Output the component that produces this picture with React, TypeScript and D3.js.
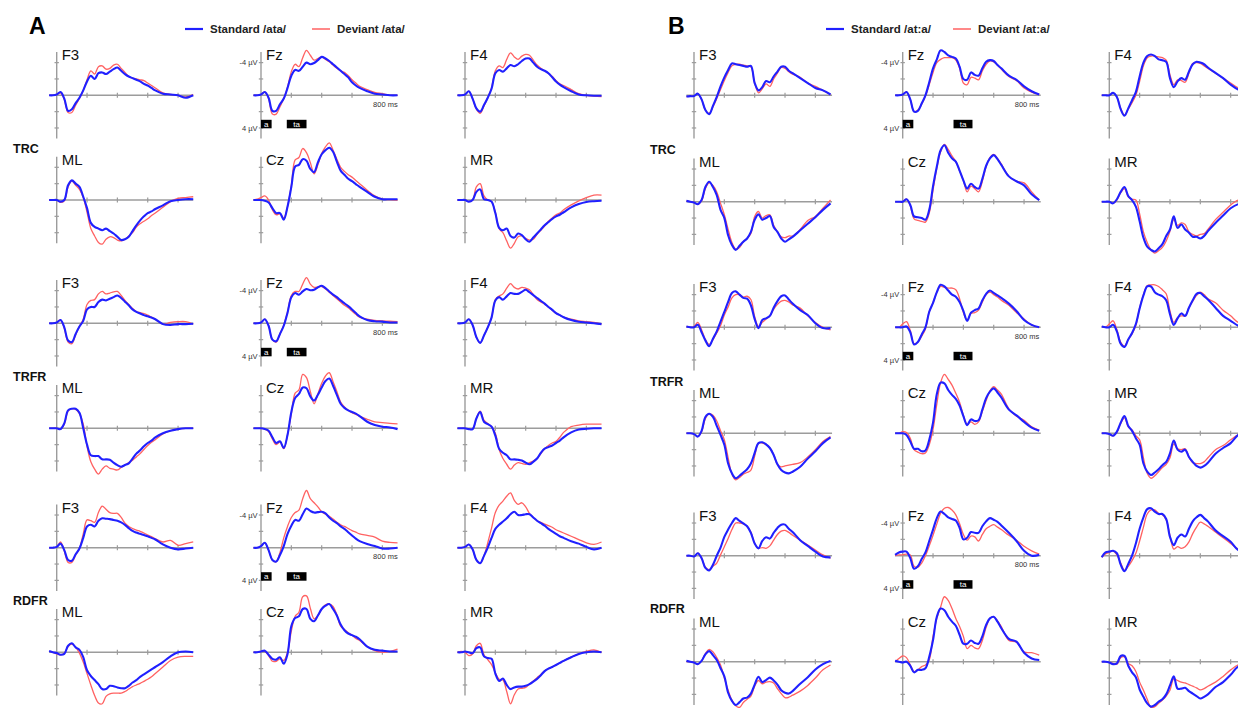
import React from 'react';
import * as d3 from 'd3';

// ---------------- DATA ----------------
const TIMES = [-50,-25,0,25,50,75,100,125,150,175,200,225,250,275,300,325,350,375,400,425,450,475,500,525,550,575,600,625,650,700,750,800,850,900];
const VOLT_TICKS = [-4,-2,2,4];
const TIME_TICKS = [200,400,600,800];
const CONDITIONS = ['TRC','TRFR','RDFR'];
const TOP_ELECTRODES = ['F3','Fz','F4'];
const BOTTOM_ELECTRODES = ['ML','Cz','MR'];
const SEG_A = [{label:'a',start:0,end:70},{label:'ta',start:170,end:300}];
const SEG_B = [{label:'a',start:0,end:70},{label:'ta',start:335,end:460}];

// Panel A /ata/
const A_TRC_F3_STD = [0,0,-0.1,-0.4,0.4,1.9,1.7,0.95,0.3,-0.6,-1.7,-2.4,-2.0,-2.7,-2.8,-2.6,-2.9,-3.2,-3.4,-3.0,-2.6,-2.3,-2.1,-1.9,-1.7,-1.4,-1.2,-0.9,-0.6,-0.2,-0.1,0,0.3,0];
const A_TRC_F3_DEV = [0,0,-0.1,-0.3,0.5,2.1,2.1,1.2,0.4,-0.6,-1.9,-3.0,-2.6,-3.5,-3.6,-3.2,-3.3,-3.7,-3.8,-3.3,-2.8,-2.3,-2.1,-2.0,-1.9,-1.8,-1.5,-1.2,-0.9,-0.3,-0.1,0,0.2,-0.1];
const A_TRC_FZ_STD = [0,0,-0.1,-0.4,0.3,1.9,1.9,1.1,0.4,-0.9,-2.4,-3.1,-3.0,-3.5,-4.0,-3.8,-3.95,-4.3,-4.7,-4.5,-4.2,-3.8,-3.4,-3.0,-2.6,-2.2,-1.6,-1.2,-0.9,-0.5,-0.2,-0.1,0,0];
const A_TRC_FZ_DEV = [0,0,-0.1,-0.4,0.4,2.3,2.3,1.4,0.4,-1.0,-2.9,-3.8,-3.5,-4.6,-5.5,-4.9,-4.3,-4.5,-4.7,-4.4,-4.1,-3.7,-3.3,-3.0,-2.8,-2.4,-1.9,-1.5,-1.1,-0.7,-0.35,-0.2,0,0];
const A_TRC_F4_STD = [0,0,-0.1,-0.5,0.4,1.6,2.0,1.2,0.3,-0.8,-2.7,-3.1,-2.9,-3.3,-3.7,-3.55,-3.8,-4.2,-4.5,-4.5,-4.0,-3.5,-3.2,-3.0,-2.7,-2.2,-1.7,-1.3,-1.0,-0.5,-0.1,0,0.05,0.05];
const A_TRC_F4_DEV = [0,0,-0.1,-0.5,0.4,1.7,2.2,1.3,0.3,-0.9,-3.0,-3.6,-3.4,-4.4,-5.2,-4.7,-4.4,-4.8,-5.0,-4.9,-4.3,-3.7,-3.3,-3.0,-2.7,-2.3,-1.8,-1.4,-1.2,-0.7,-0.2,0,0.1,0.15];
const A_TRC_ML_STD = [0,0,0,0.2,0,-1.8,-2.4,-2.0,-1.6,-0.4,1.0,2.8,3.3,3.5,3.7,3.5,3.8,4.1,4.5,4.9,4.8,4.5,3.8,3.1,2.5,2.0,1.6,1.4,1.1,0.65,0.15,0,-0.1,-0.1];
const A_TRC_ML_DEV = [0,0,0,0.3,0.1,-1.6,-2.3,-1.8,-1.3,-0.3,1.5,3.5,4.4,5.2,5.4,4.8,4.5,4.6,4.9,5.0,4.8,4.4,4.0,3.3,2.9,2.6,2.3,1.9,1.6,0.9,0.2,-0.2,-0.3,-0.4];
const A_TRC_CZ_STD = [0,0,0,0.1,0.3,1.0,1.6,1.6,2.4,0.8,-1.6,-4.1,-4.3,-5.0,-4.8,-3.8,-3.4,-4.6,-5.6,-6.1,-6.4,-5.9,-4.7,-3.6,-3.1,-2.6,-2.3,-1.95,-1.6,-1.0,-0.4,-0.1,-0.1,-0.1];
const A_TRC_CZ_DEV = [0,-0.1,-0.3,-0.5,0,1.2,1.8,1.7,2.2,0.8,-1.8,-4.9,-5.2,-6.3,-5.8,-4.6,-3.2,-4.3,-5.7,-6.5,-7.0,-6.1,-5.0,-4.0,-3.5,-3.1,-2.8,-2.4,-2.0,-1.2,-0.5,-0.1,-0.05,0];
const A_TRC_MR_STD = [0,0,0,0.2,0,-1.0,-1.3,-0.1,0,0.2,1.6,3.4,3.7,3.5,4.4,4.6,4.1,4.3,4.8,5.1,4.6,4.1,3.6,3.1,2.7,2.3,2.0,1.8,1.5,0.9,0.5,0.25,0.15,0.1];
const A_TRC_MR_DEV = [0,0,0,0.2,0,-1.6,-2.0,-0.5,0,0.2,1.5,3.5,4.0,5.0,5.9,5.3,4.5,4.4,4.7,4.9,4.8,4.2,3.7,3.2,2.6,2.2,1.8,1.6,1.2,0.6,0.1,-0.3,-0.6,-0.6];

const A_TRFR_F3_STD = [0,0,-0.1,-0.4,0.5,2.1,2.3,1.3,0.4,-0.3,-1.7,-2.0,-2.0,-2.6,-2.9,-2.8,-3.0,-3.2,-3.4,-3.1,-2.65,-2.2,-1.7,-1.4,-1.2,-1.0,-0.85,-0.7,-0.5,0.1,0.2,0.1,0.1,0.05];
const A_TRFR_F3_DEV = [0,0,-0.1,-0.4,0.6,2.3,2.5,1.4,0.4,-0.5,-2.3,-2.8,-2.9,-3.6,-3.9,-3.6,-3.7,-3.85,-3.9,-3.4,-2.8,-2.3,-1.8,-1.45,-1.3,-1.2,-1.0,-0.75,-0.5,0.1,-0.1,-0.2,-0.2,0.1];
const A_TRFR_FZ_STD = [0,0,-0.1,-0.5,0.3,2.0,2.2,1.3,0.3,-1.3,-3.2,-3.7,-3.5,-3.9,-4.2,-4.05,-4.1,-4.4,-4.6,-4.3,-3.9,-3.5,-3.2,-2.8,-2.45,-2.1,-1.7,-1.25,-0.85,-0.4,-0.25,-0.2,-0.1,-0.1];
const A_TRFR_FZ_DEV = [0,0,-0.1,-0.5,0.3,2.0,2.3,1.3,0.2,-1.4,-3.4,-3.9,-3.9,-4.8,-5.6,-4.8,-4.4,-4.45,-4.5,-4.2,-3.8,-3.4,-3.0,-2.6,-2.2,-1.9,-1.5,-1.1,-0.75,-0.5,-0.35,-0.3,-0.25,-0.2];
const A_TRFR_F4_STD = [0,0,-0.1,-0.5,0.2,1.7,2.4,1.5,0.5,-0.7,-2.8,-3.2,-2.9,-3.3,-3.7,-3.6,-3.6,-3.85,-4.1,-3.8,-3.45,-3.1,-2.75,-2.4,-2.0,-1.65,-1.25,-1.0,-0.75,-0.4,-0.2,-0.1,0,0.1];
const A_TRFR_F4_DEV = [0,0,-0.1,-0.5,0.2,1.7,2.4,1.5,0.5,-0.7,-2.9,-3.35,-3.6,-4.3,-4.85,-4.4,-4.2,-4.4,-4.3,-4.1,-3.5,-2.9,-2.6,-2.35,-2.0,-1.6,-1.25,-1.0,-0.75,-0.5,-0.3,-0.2,-0.1,0.1];
const A_TRFR_ML_STD = [0,0,0,0.1,-0.6,-2.2,-2.4,-2.4,-1.9,0,2.0,3.3,3.4,3.4,3.8,3.8,3.85,4.2,4.5,4.7,4.5,4.3,3.7,3.1,2.7,2.2,1.8,1.5,1.1,0.6,0.3,0.1,0,0];
const A_TRFR_ML_DEV = [0,0,0,0.1,-0.5,-2.1,-2.4,-2.3,-1.8,-0.5,2.2,4.1,5.0,5.6,5.0,4.6,4.9,5.0,5.1,4.8,4.5,4.2,3.9,3.5,3.1,2.6,2.1,1.7,1.4,0.7,0.3,0.1,0,0];
const A_TRFR_CZ_STD = [0,0,0,0.1,0.3,1.1,1.8,1.6,2.4,0.8,-2.0,-3.7,-4.2,-5.0,-4.9,-3.9,-3.4,-4.1,-5.0,-5.8,-6.1,-5.2,-4.1,-3.0,-2.5,-2.2,-2.0,-1.8,-1.5,-0.8,-0.4,-0.2,-0.1,0.1];
const A_TRFR_CZ_DEV = [0,0,0,0.1,0.4,1.3,2.0,1.7,2.5,0.8,-1.8,-4.3,-4.7,-6.6,-6.2,-4.5,-3.0,-4.2,-5.5,-6.4,-6.8,-5.7,-4.5,-3.2,-2.6,-2.2,-1.9,-1.7,-1.45,-1.1,-0.8,-0.7,-0.6,-0.55];
const A_TRFR_MR_STD = [0,0,0,0.1,0.1,-1.2,-2.0,-0.8,-0.5,-0.2,0.9,2.5,3.0,3.3,3.8,3.8,3.85,3.95,4.2,4.4,4.1,3.7,3.0,2.5,2.3,2.1,1.8,1.5,1.1,0.5,0.15,0.05,0,0];
const A_TRFR_MR_DEV = [0,0,0,0.1,0.1,-1.2,-2.1,-1.0,-0.6,-0.2,0.6,2.6,3.7,4.4,5.0,4.5,4.2,4.3,4.4,4.2,4.0,3.7,3.1,2.5,2.1,1.8,1.6,1.1,0.5,-0.2,-0.4,-0.5,-0.5,-0.5];

const A_RDFR_F3_STD = [0,0,-0.1,-0.5,0.3,1.5,1.6,0.8,0.1,-1.2,-2.6,-2.8,-2.6,-3.3,-3.6,-3.55,-3.5,-3.4,-3.3,-3.1,-2.8,-2.4,-2.05,-1.85,-1.7,-1.55,-1.4,-1.2,-1.0,-0.4,0,0.2,0.1,0];
const A_RDFR_F3_DEV = [0,0,-0.1,-0.7,0.4,1.8,1.8,0.9,0.1,-1.7,-3.4,-3.3,-3.1,-4.3,-5.1,-4.7,-4.3,-4.2,-4.2,-3.7,-3.0,-2.6,-2.35,-2.15,-2.0,-1.8,-1.55,-1.35,-1.1,-0.7,-0.9,-0.3,-0.5,-0.7];
const A_RDFR_FZ_STD = [0,0,-0.2,-0.6,0.3,1.5,1.7,0.9,-0.2,-1.7,-2.7,-3.4,-3.3,-4.1,-4.8,-4.5,-4.3,-4.35,-4.4,-4.2,-3.7,-3.3,-3.0,-2.6,-2.3,-1.9,-1.5,-1.1,-0.8,-0.45,-0.2,0.1,0.1,0];
const A_RDFR_FZ_DEV = [0,0,-0.2,-0.6,0.3,1.5,1.7,0.6,-1.2,-2.6,-3.7,-4.3,-4.6,-6.0,-7.0,-6.0,-5.5,-5.0,-4.4,-4.1,-3.85,-3.5,-3.1,-2.8,-2.6,-2.35,-2.1,-1.9,-1.7,-1.5,-1.3,-0.8,-0.65,-0.6];
const A_RDFR_F4_STD = [0,0,-0.1,-0.4,0.2,1.5,1.9,1.0,0,-1.2,-2.3,-2.8,-3.2,-3.6,-4.1,-4.4,-4.0,-4.0,-4.1,-4.1,-3.7,-3.3,-3.0,-2.7,-2.3,-2.0,-1.7,-1.4,-1.2,-0.8,-0.5,-0.1,0.2,0];
const A_RDFR_F4_DEV = [0,0,-0.1,-0.4,0.2,1.5,1.9,1.0,-0.6,-2.4,-4.3,-5.2,-5.7,-6.3,-6.7,-5.8,-5.3,-5.5,-5.0,-4.2,-3.7,-3.3,-3.1,-2.9,-2.7,-2.5,-2.2,-2.0,-1.8,-1.4,-1.0,-0.6,-0.4,-0.7];
const A_RDFR_ML_STD = [-0.15,0,0.1,0.3,0.2,-0.8,-1.1,-0.6,-0.3,0.6,2.2,2.9,3.4,3.9,4.5,4.5,4.1,4.15,4.3,4.4,4.4,4.1,3.7,3.4,3.0,2.7,2.4,2.1,1.8,1.2,0.5,0,-0.1,0];
const A_RDFR_ML_DEV = [-0.1,0,0.2,0.3,0.1,-0.7,-1.0,-0.6,0.1,1.2,2.6,4.0,5.3,6.2,6.3,5.4,5.1,5.0,5.0,5.0,4.8,4.5,4.2,4.0,3.8,3.55,3.3,3.0,2.6,1.8,1.0,0.6,0.5,0.5];
const A_RDFR_CZ_STD = [0,0,-0.1,-0.2,0.3,0.8,0.9,0.6,1.4,0.2,-3.2,-4.2,-4.4,-5.3,-5.3,-4.1,-3.8,-4.5,-5.3,-5.7,-5.9,-5.3,-4.5,-3.4,-2.7,-2.3,-2.1,-1.9,-1.6,-0.7,-0.3,-0.2,-0.1,-0.1];
const A_RDFR_CZ_DEV = [0,0,-0.1,-0.1,0.4,1.1,1.1,0.8,1.0,0,-2.6,-4.4,-4.9,-6.8,-6.9,-5.4,-4.1,-4.5,-5.3,-5.8,-5.9,-5.6,-4.6,-3.2,-2.8,-2.4,-2.1,-1.7,-1.45,-0.7,-0.2,0,-0.1,-0.4];
const A_RDFR_MR_STD = [0,0,-0.1,0,0.1,-0.5,-0.6,0.5,0.7,0.8,2.6,3.5,3.2,4.0,4.5,4.3,4.2,4.2,4.1,3.9,3.6,3.25,2.8,2.3,2.0,1.8,1.55,1.3,1.05,0.6,0.2,0,-0.1,0];
const A_RDFR_MR_DEV = [0,-0.1,0,0.4,0.2,-0.8,-1.1,0.3,0.9,1.5,2.5,3.3,3.4,4.8,6.3,5.2,4.5,4.4,4.3,3.9,3.5,3.1,2.7,2.25,2.0,1.8,1.55,1.3,1.05,0.6,0.2,-0.1,-0.3,0];

// Panel B /at:a/
const B_TRC_F3_STD = [0.15,0.1,0.1,-0.2,0.5,1.8,2.3,1.3,0.2,-1.1,-2.2,-3.1,-3.9,-3.8,-3.7,-3.6,-3.5,-3.6,-1.5,-0.6,-1.0,-1.75,-1.6,-2.3,-2.9,-3.5,-3.5,-3.0,-2.7,-2.1,-1.5,-0.9,-0.6,-0.1];
const B_TRC_F3_DEV = [0.15,0.1,0.1,-0.2,0.5,1.8,2.2,1.4,0.4,-0.7,-1.8,-2.8,-3.6,-3.8,-3.8,-3.7,-3.6,-3.5,-1.5,-0.3,-0.8,-1.4,-1.1,-2.0,-2.7,-3.4,-3.3,-2.9,-2.6,-2.2,-1.5,-1.1,-0.6,-0.1];
const B_TRC_FZ_STD = [0,0,-0.1,-0.4,0.5,2.0,1.9,1.0,0.0,-1.6,-3.3,-4.4,-5.5,-5.3,-4.9,-4.7,-4.5,-3.5,-2.0,-1.9,-2.8,-2.5,-2.4,-3.3,-4.1,-4.3,-4.2,-3.7,-3.3,-2.4,-1.9,-1.1,-0.5,-0.1];
const B_TRC_FZ_DEV = [0,0,-0.1,-0.4,0.5,2.0,1.8,1.1,0.1,-1.3,-2.8,-4.0,-4.4,-4.6,-4.6,-4.6,-4.3,-3.3,-1.5,-1.3,-2.2,-2.1,-1.9,-3.0,-3.8,-4.2,-4.1,-3.7,-3.2,-2.3,-1.8,-0.9,-0.4,-0.1];
const B_TRC_F4_STD = [0,0,0,-0.3,0.2,1.7,2.5,1.6,0.6,-0.4,-2.3,-4.0,-4.8,-5.0,-4.8,-4.4,-4.3,-4.1,-2.1,-1.0,-1.7,-2.1,-1.9,-2.9,-3.8,-4.1,-4.0,-3.8,-3.4,-2.75,-2.1,-1.3,-0.7,-0.5];
const B_TRC_F4_DEV = [0,0,0,-0.3,0.2,1.6,2.4,1.7,0.9,0,-1.7,-3.6,-4.6,-4.8,-4.8,-4.7,-4.6,-4.3,-2.5,-1.3,-1.9,-1.8,-1.6,-2.7,-3.9,-4.0,-3.9,-3.6,-3.3,-2.7,-2.1,-1.5,-0.9,-0.6];
const B_TRC_ML_STD = [-0.1,0,0.1,0.3,-0.2,-1.8,-2.45,-1.8,-0.8,1.0,2.0,4.1,5.3,5.9,5.4,4.9,4.5,3.7,2.2,1.55,2.2,2.0,1.75,3.1,3.7,4.5,4.9,4.6,4.3,3.5,2.7,1.9,1.0,0.2];
const B_TRC_ML_DEV = [-0.1,0,0.1,0.3,-0.1,-1.6,-2.3,-2.0,-1.2,0.2,1.6,3.4,5.0,5.8,5.6,4.9,4.5,3.9,1.8,1.2,2.0,1.7,1.6,2.9,3.7,4.3,4.4,4.2,4.2,3.4,2.3,1.8,0.8,-0.2];
const B_TRC_CZ_STD = [0,0,0,-0.3,0.4,1.8,1.9,2.0,2.2,1.0,-1.9,-4.3,-6.3,-6.9,-6.0,-5.3,-4.9,-3.8,-2.6,-1.6,-2.2,-1.8,-1.6,-2.8,-4.4,-5.3,-5.7,-5.2,-4.5,-3.1,-2.5,-2.0,-0.9,-0.2];
const B_TRC_CZ_DEV = [0,0,0,-0.3,0.5,2.1,2.3,2.4,2.5,1.4,-1.4,-4.1,-6.1,-7.0,-6.4,-5.6,-4.9,-3.8,-2.6,-1.2,-1.9,-1.6,-1.2,-2.5,-4.3,-5.4,-5.8,-5.3,-4.6,-3.1,-2.5,-2.3,-1.2,-0.2];
const B_TRC_MR_STD = [0,0,0,0.2,-0.3,-1.2,-1.8,-0.7,-0.2,0.6,2.4,4.4,5.5,5.9,6.1,5.7,5.2,4.2,3.4,1.8,3.2,2.8,3.4,3.8,4.3,4.3,4.5,4.2,3.6,2.6,1.7,0.8,0.3,0.2];
const B_TRC_MR_DEV = [0,0,0,0.2,-0.2,-1.1,-1.6,-0.6,-0.3,-0.2,1.5,3.7,5.0,5.9,6.3,6.0,5.6,4.8,3.6,2.2,2.9,2.6,2.8,3.7,4.0,4.2,4.0,3.9,3.4,2.2,1.3,0.4,-0.2,-0.2];

const B_TRFR_F3_STD = [-0.1,0,0,-0.3,0.6,1.6,2.3,1.4,0.5,-0.7,-1.9,-3.1,-4.2,-4.4,-4.0,-3.6,-3.5,-2.7,-1.0,0.1,-0.9,-1.1,-1.4,-2.4,-3.2,-3.8,-3.9,-3.4,-2.9,-2.1,-1.5,-0.5,0.1,0.1];
const B_TRFR_F3_DEV = [-0.1,0,-0.1,-0.6,0.3,1.5,2.1,1.5,0.7,-0.2,-1.5,-2.5,-3.6,-4.0,-4.0,-3.7,-3.8,-3.4,-1.3,-0.1,-0.6,-1.0,-1.4,-2.2,-2.8,-3.2,-3.3,-3.1,-2.75,-2.35,-1.4,-0.6,0,0.3];
const B_TRFR_FZ_STD = [0,0,0,-0.1,0.6,2.1,1.8,0.9,0,-1.9,-3.0,-4.3,-5.2,-5.0,-4.5,-4.0,-3.75,-3.1,-2.0,-0.8,-1.8,-2.1,-2.3,-3.3,-4.1,-4.5,-4.2,-3.9,-3.6,-2.9,-2.0,-0.9,-0.3,0];
const B_TRFR_FZ_DEV = [0,0,-0.4,-0.7,0.4,2.0,1.8,1.1,0.2,-1.9,-3.0,-4.3,-5.0,-4.9,-4.8,-4.8,-4.6,-3.5,-1.8,-0.9,-1.7,-1.8,-2.1,-3.1,-4.0,-4.3,-4.0,-3.7,-3.3,-2.7,-1.8,-1.0,-0.3,0];
const B_TRFR_F4_STD = [-0.1,0,0,-0.3,0.5,2.0,2.4,1.5,0.7,-0.4,-2.3,-3.9,-5.0,-5.0,-4.3,-4.0,-3.8,-3.3,-1.6,-0.3,-1.1,-1.7,-1.4,-2.4,-3.3,-4.1,-4.2,-3.8,-3.4,-2.4,-1.4,-0.8,-0.2,0];
const B_TRFR_F4_DEV = [-0.1,0,-0.4,-0.8,0.3,1.8,2.3,1.5,0.8,-0.2,-2.4,-4.0,-5.1,-5.2,-5.2,-5.0,-4.6,-4.1,-2.0,-0.6,-1.2,-1.4,-1.4,-2.4,-3.2,-3.9,-4.3,-4.0,-3.5,-3.0,-2.1,-1.4,-0.6,-0.5];
const B_TRFR_ML_STD = [0,0,0.1,0.4,-0.3,-2.0,-2.4,-2.0,-0.9,0.2,1.4,3.7,4.9,5.5,5.2,4.8,4.4,3.7,2.4,1.2,1.1,1.35,1.8,2.65,3.8,4.5,4.8,4.9,4.7,4.1,3.1,2.2,1.2,0.5];
const B_TRFR_ML_DEV = [0,0,0.1,0.4,-0.2,-1.8,-2.4,-2.2,-1.5,-0.3,0.8,3.0,5.0,5.7,5.4,5.0,4.8,4.5,2.8,1.2,1.2,1.4,1.8,2.6,3.8,4.1,4.0,3.9,3.8,3.6,2.9,2.0,1.0,0.4];
const B_TRFR_CZ_STD = [0,0,0,0.2,1.0,1.9,1.9,2.2,2.1,0.8,-1.3,-4.8,-6.2,-6.1,-5.3,-4.7,-4.2,-3.4,-2.1,-1.0,-1.7,-1.5,-1.6,-2.9,-4.3,-5.1,-5.5,-5.0,-4.4,-2.9,-2.2,-1.4,-0.7,-0.3];
const B_TRFR_CZ_DEV = [0,0,-0.2,-0.1,0.6,2.0,2.3,2.5,2.4,1.4,-0.5,-3.6,-6.2,-7.2,-6.6,-5.9,-4.9,-3.8,-2.2,-1.1,-1.4,-1.1,-1.4,-2.7,-4.0,-5.2,-5.7,-5.3,-4.8,-3.0,-2.1,-1.6,-0.8,-0.4];
const B_TRFR_MR_STD = [0,0,0.1,0.3,-0.2,-1.3,-2.1,-0.9,-0.3,0.6,1.4,3.7,4.7,5.1,4.8,4.4,3.9,3.5,2.45,0.9,2.0,2.25,2.0,2.9,3.5,4.0,4.2,4.0,3.6,2.5,1.8,1.2,0.2,0];
const B_TRFR_MR_DEV = [0,0,0.1,0.3,-0.1,-1.2,-1.9,-0.8,-0.4,0.3,0.8,3.0,4.9,5.5,5.2,4.7,4.2,3.8,3.0,1.3,1.9,2.0,1.9,2.9,3.6,3.7,3.7,3.5,3.0,2.0,1.5,0.8,0.2,0];

const B_RDFR_F3_STD = [0,0,0.1,-0.3,0.3,1.5,1.8,1.1,0,-1.0,-2.3,-3.2,-4.0,-4.6,-4.25,-3.95,-3.6,-2.8,-1.5,-0.9,-1.8,-2.25,-2.1,-2.8,-3.4,-3.8,-3.8,-3.3,-2.9,-1.9,-1.2,-0.5,0.1,0.2];
const B_RDFR_F3_DEV = [0,0,0.1,-0.3,0.3,1.4,1.7,1.3,0.9,-0.1,-1.1,-2.1,-3.2,-4.0,-4.0,-3.9,-3.6,-2.9,-1.5,-0.9,-1.0,-0.9,-1.2,-1.9,-2.6,-3.0,-3.1,-2.85,-2.5,-1.9,-1.3,-0.7,-0.1,0.3];
const B_RDFR_FZ_STD = [-0.1,-0.4,-0.5,-0.5,0.3,1.6,1.3,0.4,-0.4,-1.8,-3.2,-4.6,-5.4,-5.1,-4.7,-4.5,-4.3,-3.4,-2.0,-2.2,-2.9,-2.8,-2.8,-3.6,-4.2,-4.6,-4.4,-4.15,-3.7,-2.8,-1.8,-0.6,0,-0.1];
const B_RDFR_FZ_DEV = [0,-0.1,-0.1,-0.2,-0.1,1.3,1.4,0.9,0,-1.2,-2.5,-3.9,-5.2,-5.8,-5.9,-5.6,-5.0,-3.9,-2.6,-1.9,-2.4,-2.3,-1.8,-2.6,-3.3,-3.6,-3.8,-3.5,-3.2,-2.5,-1.9,-1.15,-0.6,-0.2];
const B_RDFR_F4_STD = [0.2,-0.4,-0.5,-0.6,-0.3,1.1,1.9,1.0,0,-1.5,-3.3,-4.7,-5.7,-5.8,-5.4,-5.1,-5.1,-4.5,-2.3,-1.3,-2.2,-2.6,-2.35,-3.3,-4.2,-4.7,-5.0,-4.6,-4.2,-3.1,-2.4,-1.7,-0.7,-0.6];
const B_RDFR_F4_DEV = [0.2,-0.2,-0.4,-0.6,-0.1,0.9,1.8,1.3,0.6,-0.3,-1.8,-3.5,-5.1,-5.6,-5.6,-5.2,-5.0,-4.4,-2.45,-0.8,-1.1,-0.9,-1.1,-1.7,-2.7,-3.5,-4.1,-3.9,-3.6,-2.9,-2.2,-1.5,-0.8,-0.7];
const B_RDFR_ML_STD = [-0.1,0,0.1,0.3,-0.1,-0.9,-1.3,-0.8,-0.2,0.8,1.8,3.8,4.8,5.3,4.95,4.5,4.4,3.9,2.8,1.85,2.5,2.25,1.95,2.3,2.8,3.5,3.8,3.9,3.6,2.7,1.9,0.95,0.3,-0.1];
const B_RDFR_ML_DEV = [0,0,0.1,0.3,-0.1,-1.0,-1.5,-1.2,-0.5,0.4,2.0,3.5,4.7,5.4,5.6,5.0,4.6,4.2,3.0,2.3,2.7,2.5,2.45,2.6,3.3,3.9,4.4,4.35,4.1,3.6,2.9,2.0,1.0,0.4];
const B_RDFR_CZ_STD = [-0.1,0,0.1,0,0.5,1.3,1.0,1.0,0.8,-0.6,-2.65,-5.5,-6.5,-6.3,-5.5,-4.9,-4.4,-3.3,-2.2,-2.2,-2.6,-2.3,-2.2,-3.1,-4.5,-5.3,-5.5,-4.9,-4.1,-2.8,-2.45,-1.1,-0.4,-0.2];
const B_RDFR_CZ_DEV = [0,-0.4,-0.7,-0.5,0.4,1.2,1.0,0.6,0.4,-0.2,-3.1,-5.3,-6.7,-7.95,-7.5,-6.5,-5.3,-4.3,-3.1,-1.6,-2.0,-1.7,-1.6,-2.6,-4.2,-5.3,-5.5,-5.0,-4.3,-2.6,-2.4,-1.2,-1.1,-0.8];
const B_RDFR_MR_STD = [0,0,0.1,0.3,0.2,-0.7,-0.7,0.5,1.3,1.9,3.4,4.3,5.1,5.5,5.3,4.9,4.6,4.0,2.9,1.8,3.3,3.3,3.2,3.6,3.9,4.2,4.5,4.3,4.0,3.1,2.5,1.6,0.6,0.6];
const B_RDFR_MR_DEV = [0,0,0.1,0.2,0.3,-0.5,-0.6,0.2,0.5,1.2,2.5,3.5,4.6,5.6,5.5,5.1,4.7,4.2,3.5,2.1,2.3,2.5,2.6,2.8,3.0,3.2,3.45,3.3,3.0,2.5,1.8,1.0,0.4,0.3];

const A_DATA: Record<string, Record<string, number[][]>> = {
  TRC: { F3:[A_TRC_F3_STD,A_TRC_F3_DEV], Fz:[A_TRC_FZ_STD,A_TRC_FZ_DEV], F4:[A_TRC_F4_STD,A_TRC_F4_DEV], ML:[A_TRC_ML_STD,A_TRC_ML_DEV], Cz:[A_TRC_CZ_STD,A_TRC_CZ_DEV], MR:[A_TRC_MR_STD,A_TRC_MR_DEV] },
  TRFR: { F3:[A_TRFR_F3_STD,A_TRFR_F3_DEV], Fz:[A_TRFR_FZ_STD,A_TRFR_FZ_DEV], F4:[A_TRFR_F4_STD,A_TRFR_F4_DEV], ML:[A_TRFR_ML_STD,A_TRFR_ML_DEV], Cz:[A_TRFR_CZ_STD,A_TRFR_CZ_DEV], MR:[A_TRFR_MR_STD,A_TRFR_MR_DEV] },
  RDFR: { F3:[A_RDFR_F3_STD,A_RDFR_F3_DEV], Fz:[A_RDFR_FZ_STD,A_RDFR_FZ_DEV], F4:[A_RDFR_F4_STD,A_RDFR_F4_DEV], ML:[A_RDFR_ML_STD,A_RDFR_ML_DEV], Cz:[A_RDFR_CZ_STD,A_RDFR_CZ_DEV], MR:[A_RDFR_MR_STD,A_RDFR_MR_DEV] },
};
const B_DATA: Record<string, Record<string, number[][]>> = {
  TRC: { F3:[B_TRC_F3_STD,B_TRC_F3_DEV], Fz:[B_TRC_FZ_STD,B_TRC_FZ_DEV], F4:[B_TRC_F4_STD,B_TRC_F4_DEV], ML:[B_TRC_ML_STD,B_TRC_ML_DEV], Cz:[B_TRC_CZ_STD,B_TRC_CZ_DEV], MR:[B_TRC_MR_STD,B_TRC_MR_DEV] },
  TRFR: { F3:[B_TRFR_F3_STD,B_TRFR_F3_DEV], Fz:[B_TRFR_FZ_STD,B_TRFR_FZ_DEV], F4:[B_TRFR_F4_STD,B_TRFR_F4_DEV], ML:[B_TRFR_ML_STD,B_TRFR_ML_DEV], Cz:[B_TRFR_CZ_STD,B_TRFR_CZ_DEV], MR:[B_TRFR_MR_STD,B_TRFR_MR_DEV] },
  RDFR: { F3:[B_RDFR_F3_STD,B_RDFR_F3_DEV], Fz:[B_RDFR_FZ_STD,B_RDFR_FZ_DEV], F4:[B_RDFR_F4_STD,B_RDFR_F4_DEV], ML:[B_RDFR_ML_STD,B_RDFR_ML_DEV], Cz:[B_RDFR_CZ_STD,B_RDFR_CZ_DEV], MR:[B_RDFR_MR_STD,B_RDFR_MR_DEV] },
};

// ---------------- LAYOUT ----------------
const W = 1238, H = 708;
const PX_PER_MS = 0.1517;
const PX_PER_UV = 8.17;
const V_EXT = 5.3;
const BLUE = '#2020ff';
const RED = '#ff6262';
const AXIS = '#9c9c9c';
const FONT = 'Liberation Sans, Arial, Helvetica, sans-serif';

const PANELS = [
  {
    letter: 'A', letterX: 29, data: A_DATA, segments: SEG_A, stdLabel: 'Standard /ata/', devLabel: 'Deviant /ata/',
    legendX: 185, cols: [56.7, 261, 465], rows: [[95.3, 200], [323.3, 428.3], [547.7, 652.3]],
    condX: 13, condY: [152.7, 380.7, 605], xEnd: 900,
  },
  {
    letter: 'B', letterX: 668, data: B_DATA, segments: SEG_B, stdLabel: 'Standard /at:a/', devLabel: 'Deviant /at:a/',
    legendX: 826, cols: [694, 902.7, 1109.3], rows: [[95.3, 201.7], [327.3, 433.3], [555.7, 661.7]],
    condX: 650, condY: [154, 385.7, 613.3], xEnd: 910,
  },
];

function Subplot({ axisX, baseline, label, std, dev, isFz, segments, xEnd }:
  { axisX: number; baseline: number; label: string; std: number[]; dev: number[]; isFz: boolean; segments: any[]; xEnd: number }) {
  const x = d3.scaleLinear().domain([0, 1000]).range([axisX, axisX + 1000 * PX_PER_MS]);
  const y = d3.scaleLinear().domain([-V_EXT, V_EXT]).range([baseline - V_EXT * PX_PER_UV, baseline + V_EXT * PX_PER_UV]);
  const line = d3.line<number>().x((_, i) => x(TIMES[i])).y((d) => y(d)).curve(d3.curveCatmullRom.alpha(0.5));
  return (
    <g>
      <line x1={x(-50)} x2={x(xEnd)} y1={y(0)} y2={y(0)} stroke={AXIS} strokeWidth={1.4} />
      <line x1={x(0)} x2={x(0)} y1={y(-V_EXT)} y2={y(V_EXT)} stroke={AXIS} strokeWidth={1.4} />
      {VOLT_TICKS.map((v) => (
        <line key={'v' + v} x1={x(0) - 2.2} x2={x(0) + 2.2} y1={y(v)} y2={y(v)} stroke={AXIS} strokeWidth={1.2} />
      ))}
      {TIME_TICKS.map((t) => (
        <line key={'t' + t} x1={x(t)} x2={x(t)} y1={y(0) - 2.5} y2={y(0) + 2.5} stroke={AXIS} strokeWidth={1.2} />
      ))}
      <text x={axisX + 5} y={baseline - 35} fontFamily={FONT} fontSize={15} fill="#111">{label}</text>
      {isFz && (
        <g fontFamily={FONT} fontSize={7.5} fill="#333">
          <text x={x(0) - 3.5} y={y(-4) + 2.6} textAnchor="end">-4 µV</text>
          <text x={x(0) - 3.5} y={y(4) + 2.6} textAnchor="end">4 µV</text>
          <text x={x(800) + 3} y={y(0) + 11.5} textAnchor="middle">800 ms</text>
          {segments.map((s) => (
            <g key={s.label}>
              <rect x={x(s.start)} y={y(0) + 24.5} width={x(s.end) - x(s.start)} height={8.5} fill="#000" />
              <text x={(x(s.start) + x(s.end)) / 2} y={y(0) + 31.6} textAnchor="middle" fill="#fff" fontSize={8}>{s.label}</text>
            </g>
          ))}
        </g>
      )}
      <path d={line(dev) || ''} fill="none" stroke={RED} strokeWidth={1.3} strokeLinejoin="round" />
      <path d={line(std) || ''} fill="none" stroke={BLUE} strokeWidth={2.1} strokeLinejoin="round" />
    </g>
  );
}

export default function App() {
  return (
    <svg width={W} height={H} viewBox={`0 0 ${W} ${H}`} style={{ position: 'absolute', left: 0, top: 0, background: '#fff' }}>
      <rect x={0} y={0} width={W} height={H} fill="#fff" />
      {PANELS.map((p) => (
        <g key={p.letter}>
          <text x={p.letterX} y={33.5} fontFamily={FONT} fontWeight="bold" fontSize={23}>{p.letter}</text>
          <g fontFamily={FONT} fontWeight="bold" fontSize={11.5} fill="#222">
            <line x1={p.legendX} x2={p.legendX + 18} y1={29} y2={29} stroke={BLUE} strokeWidth={2.2} />
            <text x={p.legendX + 25} y={33}>{p.stdLabel}</text>
            <line x1={p.legendX + 127} x2={p.legendX + 145} y1={29} y2={29} stroke={RED} strokeWidth={1.5} />
            <text x={p.legendX + 152} y={33}>{p.devLabel}</text>
          </g>
          {CONDITIONS.map((cond, ri) => (
            <g key={cond}>
              <text x={p.condX} y={p.condY[ri]} fontFamily={FONT} fontWeight="bold" fontSize={12.5} fill="#111">{cond}</text>
              {[TOP_ELECTRODES, BOTTOM_ELECTRODES].map((elecs, si) =>
                elecs.map((el, ci) => (
                  <Subplot
                    key={el}
                    axisX={p.cols[ci]}
                    baseline={p.rows[ri][si]}
                    label={el}
                    std={p.data[cond][el][0]}
                    dev={p.data[cond][el][1]}
                    isFz={el === 'Fz'}
                    segments={p.segments}
                    xEnd={p.xEnd}
                  />
                ))
              )}
            </g>
          ))}
        </g>
      ))}
    </svg>
  );
}
